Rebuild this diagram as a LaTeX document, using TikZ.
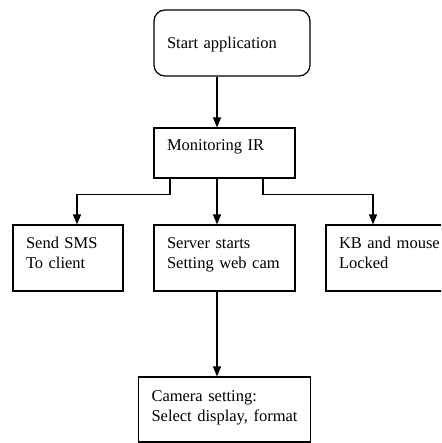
\documentclass[tikz,border=0pt]{standalone}
\usepackage{fontspec}
\setmainfont{Liberation Serif}
\usetikzlibrary{arrows.meta, positioning}

\begin{document}
\begin{tikzpicture}[x=1pt,y=1pt,on grid,>={Triangle[length=10pt,width=8pt]},
      every node/.style={font=\fontsize{16.5}{20}\selectfont},
      box/.style={draw,line width=1.2pt,inner xsep=13pt,inner ysep=0pt,align=left,
        minimum height=66pt,text depth=29.5pt},
      rbox/.style={box,rounded corners=11pt},
      arr/.style={->,line width=1.2pt}]
      \path[use as bounding box,clip] (0,0) rectangle (441,-443);
      \coordinate (spine) at (217,0);
      \node[rbox, minimum width=156pt, text width=130pt, text depth=0pt] (start) at (232,-43)
        {Start application};
      \node[box, minimum width=141pt, minimum height=50pt, text width=115pt, text depth=16pt,
        below=110pt of start, xshift=-7.5pt] (mon) {Monitoring IR};
      \node[box, minimum width=141pt, text width=115pt, below=105pt of mon] (server)
        {Server starts\\Setting web cam};
      \node[box, minimum width=110pt, text width=84pt, left=156.5pt of server] (sms)
        {Send SMS\\To client};
      \node[box, minimum width=141pt, text width=115pt, right=172pt of server] (kb)
        {KB and mouse\\ Locked};
      \node[box, minimum width=172pt, minimum height=65pt, text width=146pt, text depth=26.5pt,
        below=151.5pt of server] (cam) {Camera setting:\\\mbox{Select display, format}};
      % connectors
      \draw[arr] (start.south -| spine) -- (mon.north -| spine);
      \draw[arr] ([xshift=-54.5pt]mon.south) -- ++(0,-16) -| ([xshift=9pt]sms.north);
      \draw[arr] (mon.south -| spine) -- (server.north -| spine);
      \draw[arr] ([xshift=38.5pt]mon.south) -- ++(0,-16) -| ([xshift=-23.5pt]kb.north);
      \draw[arr] (server.south -| spine) -- (cam.north -| spine);
    \end{tikzpicture}
\end{document}
